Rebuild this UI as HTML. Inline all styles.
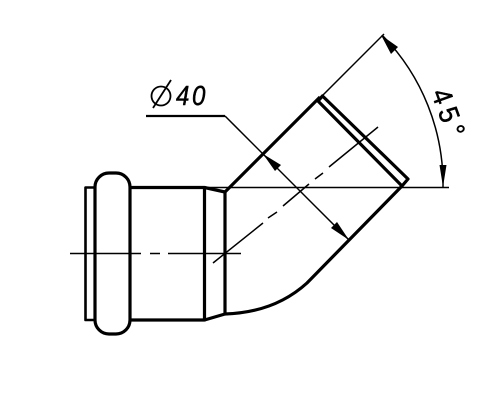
<!DOCTYPE html>
<html>
<head>
<meta charset="utf-8">
<title>45 degree pipe elbow drawing</title>
<style>
html,body{margin:0;padding:0;background:#fff;width:487px;height:400px;overflow:hidden}
svg{display:block}
text{font-family:"Liberation Sans",sans-serif;font-style:italic;fill:#000}
</style>
</head>
<body>
<svg width="487" height="400" viewBox="0 0 487 400" fill="none" stroke="#000" stroke-linejoin="round">
  <g stroke-width="3.200">
    <path d="M95 187.500H85.500V320H95" stroke-width="2.600"/>
    <rect x="95" y="173" width="35" height="161" rx="14" ry="14"/>
    <path d="M130 187.500H204.500V320H130"/>
    <path d="M204.500 187.500L225 192"/>
    <path d="M204.500 320L225 314"/>
    <path d="M225 192V314"/>
    <path d="M225 192L320 97"/>
    <path d="M225 314C258 313 285 303 307 283L402 186"/>
    <path d="M318 101L322.500 96L408 179L402 186Z"/>
  </g>
  <g stroke-width="1.500">
    <path d="M204 187.500H449"/>
    <path d="M322 96L384 34"/>
    <path d="M383 36A213 213 0 0 1 443 187"/>
    <path d="M225 116L349 240"/>
  </g>
  <path d="M146 116H225" stroke-width="2.200"/>
  <g fill="#000" stroke="none">
    <polygon points="381,35 398,47 391,54"/>
    <polygon points="443,187 439.500,165 446.500,165"/>
    <polygon points="263,154 281,165 275,171"/>
    <polygon points="349,240 331,228 337,222"/>
  </g>
  <g stroke-width="1.500">
    <path d="M70 253.500H141M150 253.500H160M168 253.500H241"/>
    <path d="M213 263L263 223M268 218L277 212M283 206L309 184M315 179L323 173M329 167L378 127"/>
  </g>
  <g>
    <circle cx="161" cy="96" r="9.500" stroke-width="1.800"/>
    <path d="M153 108L171 80" stroke-width="1.800"/>
    <text transform="translate(176 105) scale(0.86 1)" font-size="28" letter-spacing="3" stroke="#000" stroke-width="0.500">40</text>
  </g>
  <text transform="translate(431 93) rotate(70) scale(0.9 1)" font-size="28" letter-spacing="6" stroke="#000" stroke-width="0.500" style="font-style:normal">45°</text>
</svg>
</body>
</html>
